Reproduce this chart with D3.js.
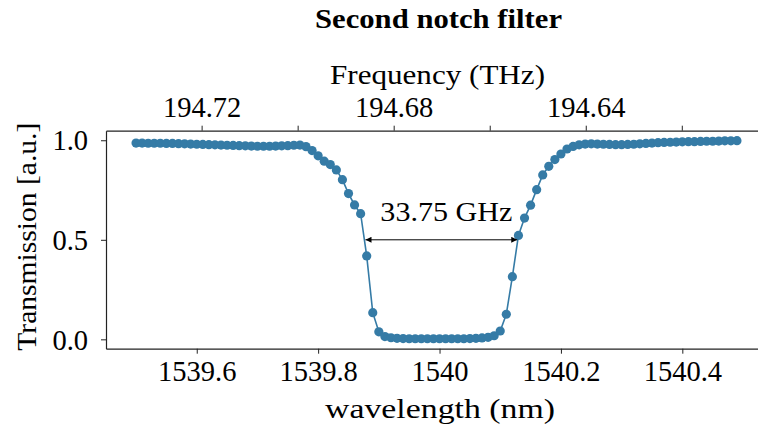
<!DOCTYPE html>
<html>
<head>
<meta charset="utf-8">
<script src="https://cdn.jsdelivr.net/npm/d3@7/dist/d3.min.js"></script>
<style>
  body { margin: 0; background: #fff; }
  svg text { font-family: "Liberation Serif", "DejaVu Serif", serif; fill: #000; }
</style>
</head>
<body>
<div id="chart"></div>
<script>
// Second notch filter: transmission vs wavelength, top axis in frequency

const WIDTH = 758;
const HEIGHT = 429;
const C_NM_THZ = 299792.458;

const wavelength = [
  1539.50, 1539.51, 1539.52, 1539.53, 1539.54, 1539.55, 1539.56, 1539.57, 1539.58, 1539.59,
  1539.60, 1539.61, 1539.62, 1539.63, 1539.64, 1539.65, 1539.66, 1539.67, 1539.68, 1539.69,
  1539.70, 1539.71, 1539.72, 1539.73, 1539.74, 1539.75, 1539.76, 1539.77, 1539.78, 1539.79,
  1539.80, 1539.81, 1539.82, 1539.83, 1539.84, 1539.85, 1539.86, 1539.87, 1539.88, 1539.89,
  1539.90, 1539.91, 1539.92, 1539.93, 1539.94, 1539.95, 1539.96, 1539.97, 1539.98, 1539.99,
  1540.00, 1540.01, 1540.02, 1540.03, 1540.04, 1540.05, 1540.06, 1540.07, 1540.08, 1540.09,
  1540.10, 1540.11, 1540.12, 1540.13, 1540.14, 1540.15, 1540.16, 1540.17, 1540.18, 1540.19,
  1540.20, 1540.21, 1540.22, 1540.23, 1540.24, 1540.25, 1540.26, 1540.27, 1540.28, 1540.29,
  1540.30, 1540.31, 1540.32, 1540.33, 1540.34, 1540.35, 1540.36, 1540.37, 1540.38, 1540.39,
  1540.40, 1540.41, 1540.42, 1540.43, 1540.44, 1540.45, 1540.46, 1540.47, 1540.48, 1540.49
];

const transmission = [
  0.986, 0.986, 0.985, 0.985, 0.985, 0.984, 0.984, 0.983, 0.982, 0.981,
  0.980, 0.979, 0.978, 0.977, 0.976, 0.975, 0.974, 0.973, 0.972, 0.971,
  0.970, 0.970, 0.970, 0.971, 0.972, 0.973, 0.975, 0.976, 0.968, 0.948,
  0.922, 0.895, 0.878, 0.851, 0.802, 0.732, 0.675, 0.631, 0.419, 0.134,
  0.038, 0.014, 0.008, 0.005, 0.004, 0.003, 0.003, 0.003, 0.003, 0.003,
  0.003, 0.003, 0.003, 0.003, 0.003, 0.004, 0.005, 0.007, 0.010, 0.018,
  0.042, 0.126, 0.315, 0.522, 0.609, 0.674, 0.752, 0.826, 0.869, 0.903,
  0.931, 0.956, 0.969, 0.977, 0.981, 0.982, 0.981, 0.980, 0.979, 0.978,
  0.978, 0.979, 0.980, 0.982, 0.984, 0.986, 0.988, 0.989, 0.990, 0.991,
  0.992, 0.993, 0.993, 0.994, 0.995, 0.995, 0.996, 0.997, 0.997, 0.998
];

const wlTicks = [1539.6, 1539.8, 1540.0, 1540.2, 1540.4];
const wlTickLabels = ["1539.6", "1539.8", "1540", "1540.2", "1540.4"];
const freqTicks = [194.72, 194.70, 194.68, 194.66, 194.64, 194.62];
const freqLabelled = [194.72, 194.68, 194.64];
const yTicks = [0.0, 0.5, 1.0];

// FWHM annotation (wavelength ends, level, label)
const fwhmEnds = [1539.878, 1540.128];
const fwhmLevel = 0.5;
const fwhmLabel = "33.75 GHz";

const LINE_COLOR = "#357ba6";
const AXIS_COLOR = "#222";
const TICK_FONT = 28.5;
const LABEL_FONT = 28;

const plot = { left: 106, right: 767, top: 130.7, bottom: 348.7 };

const x = d3.scaleLinear().domain([1539.4505, 1540.5395]).range([plot.left, plot.right]);
const y = d3.scaleLinear().domain([-0.047, 1.048]).range([plot.bottom, plot.top]);
// frequency axis: f = c / lambda (linear over this tiny span)
const xf = d3.scaleLinear()
  .domain([C_NM_THZ / x.domain()[0], C_NM_THZ / x.domain()[1]])
  .range([plot.left, plot.right]);

const svg = d3.select("#chart").append("svg")
  .attr("width", WIDTH)
  .attr("height", HEIGHT)
  .attr("viewBox", `0 0 ${WIDTH} ${HEIGHT}`);

svg.append("rect").attr("width", WIDTH).attr("height", HEIGHT).attr("fill", "#fff");

const defs = svg.append("defs");
["start", "end"].forEach(k => {
  defs.append("marker")
    .attr("id", "arrow-" + k)
    .attr("viewBox", "0 0 10 10")
    .attr("refX", 10).attr("refY", 5)
    .attr("markerWidth", 9).attr("markerHeight", 6)
    .attr("markerUnits", "userSpaceOnUse")
    .attr("orient", k === "start" ? "auto-start-reverse" : "auto")
    .append("path")
    .attr("d", "M0,0 L10,5 L0,10 z")
    .attr("fill", "#000");
});

function styleAxis(g) {
  g.select(".domain").attr("stroke", AXIS_COLOR).attr("stroke-width", 1.2);
  g.selectAll(".tick line").attr("stroke", AXIS_COLOR).attr("stroke-width", 1);
  g.selectAll(".tick text")
    .attr("font-family", "Liberation Serif, DejaVu Serif, serif")
    .attr("font-size", TICK_FONT)
    .attr("fill", "#000");
}

// bottom axis
const xAxis = svg.append("g")
  .attr("transform", `translate(0,${plot.bottom})`)
  .call(d3.axisBottom(x).tickValues(wlTicks)
    .tickFormat((d, i) => wlTickLabels[i]).tickSize(5).tickPadding(7).tickSizeOuter(0));
styleAxis(xAxis);

// top axis (frequency)
const topAxis = svg.append("g")
  .attr("transform", `translate(0,${plot.top})`)
  .call(d3.axisTop(xf).tickValues(freqTicks)
    .tickFormat(d => freqLabelled.some(v => Math.abs(v - d) < 1e-9) ? d.toFixed(2) : "")
    .tickSize(5).tickPadding(9).tickSizeOuter(0));
styleAxis(topAxis);

// left axis
const yAxis = svg.append("g")
  .attr("transform", `translate(${plot.left},0)`)
  .call(d3.axisLeft(y).tickValues(yTicks).tickFormat(d3.format(".1f"))
    .tickSize(5).tickPadding(13).tickSizeOuter(0));
styleAxis(yAxis);
yAxis.selectAll(".tick text").attr("dy", "0.34em");

// data line + markers
const line = d3.line()
  .x((d, i) => x(wavelength[i]))
  .y(d => y(d));

svg.append("path")
  .datum(transmission)
  .attr("d", line)
  .attr("fill", "none")
  .attr("stroke", LINE_COLOR)
  .attr("stroke-width", 1.6);

svg.append("g").selectAll("circle")
  .data(transmission)
  .enter()
  .append("circle")
  .attr("cx", (d, i) => x(wavelength[i]))
  .attr("cy", d => y(d))
  .attr("r", 4.6)
  .attr("fill", LINE_COLOR);

// FWHM arrow
svg.append("line")
  .attr("x1", x(fwhmEnds[0])).attr("x2", x(fwhmEnds[1]))
  .attr("y1", y(fwhmLevel)).attr("y2", y(fwhmLevel))
  .attr("stroke", "#000").attr("stroke-width", 1)
  .attr("marker-start", "url(#arrow-start)")
  .attr("marker-end", "url(#arrow-end)");

function label(txt, size, len) {
  return svg.append("text")
    .attr("text-anchor", "middle")
    .attr("font-size", size)
    .attr("textLength", len)
    .attr("lengthAdjust", "spacingAndGlyphs")
    .text(txt);
}

label(fwhmLabel, LABEL_FONT, 132)
  .attr("x", x((fwhmEnds[0] + fwhmEnds[1]) / 2) + 5)
  .attr("y", y(fwhmLevel) - 19);

// axis labels and title
label("wavelength (nm)", LABEL_FONT, 230).attr("x", 440).attr("y", 418);

label("Transmission [a.u.]", LABEL_FONT, 228)
  .attr("transform", `translate(36,${(plot.top + plot.bottom) / 2 - 3}) rotate(-90)`);

label("Frequency (THz)", LABEL_FONT, 215).attr("x", 437.5).attr("y", 84);

label("Second notch filter", LABEL_FONT, 247)
  .attr("x", 438.5).attr("y", 28)
  .attr("font-weight", "bold");
</script>
</body>
</html>
